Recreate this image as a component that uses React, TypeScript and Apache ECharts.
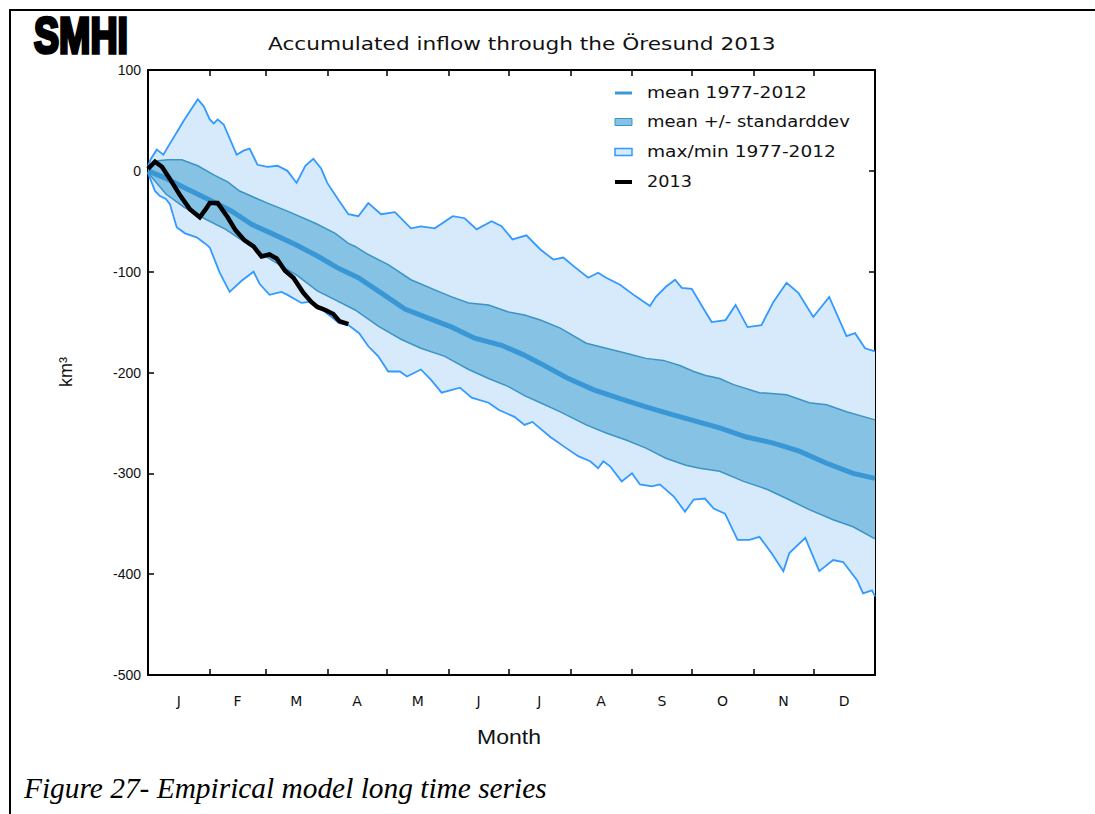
import React, { useEffect, useRef } from "react";
import * as echarts from "echarts";

// Day-of-year positions (0 = 1 Jan, 365 = 31 Dec end)
const monthStarts = [0, 31, 59, 90, 120, 151, 181, 212, 243, 273, 304, 334, 365];
const monthMids = [15.5, 45, 74.5, 105, 135.5, 166, 196.5, 227.5, 258, 288.5, 319, 349.5];
const monthLetters = ["J", "F", "M", "A", "M", "J", "J", "A", "S", "O", "N", "D"];

// Accumulated inflow, km³, as [day, value]
const maxCurve: [number, number][] = [
  [0, 5], [1.5, 12], [4.4, 21], [7.7, 16], [11, 27], [15, 40], [18, 50], [25, 71], [28, 64],
  [31, 51], [33, 47], [35, 51], [38, 46], [44.5, 16], [48, 20], [51, 22], [55, 6], [60, 4],
  [65, 5], [70, 0], [74.6, -12], [79, 5], [83, 12], [87, 2], [90, -12], [96, -30],
  [100.6, -43], [105.6, -45], [110.6, -32], [117, -43], [124, -41], [132, -57], [137, -55],
  [144, -57], [153, -45], [159, -47], [165, -58], [172.5, -50], [177.5, -55], [183, -68],
  [190, -64], [197, -78], [203.5, -88], [208.5, -86], [214, -95], [221, -106], [226, -101],
  [230, -106], [237, -113], [244.5, -124], [252, -134], [255, -125], [260, -115],
  [264.6, -108], [268, -116], [273, -117], [279, -137], [283, -150], [290, -148],
  [295, -133], [301, -155], [308, -153], [314, -130], [320.6, -111], [326.5, -121],
  [334, -145], [342, -125], [350.7, -164], [355, -161], [360, -176], [365, -179],
];

const minCurve: [number, number][] = [
  [0, -2], [3.5, -20], [6, -25], [9, -28], [11, -33], [14.4, -56], [18.6, -62], [24.4, -66],
  [28.6, -72], [31, -76], [36, -101], [41, -120], [47, -109], [53, -100], [56, -112],
  [61, -123], [67, -120], [70, -123], [77, -131], [81, -130], [89, -140], [96, -151],
  [100.6, -153], [106, -161], [110.6, -174], [115.6, -184], [120.6, -199], [126.5, -199],
  [130, -204], [137, -197], [142, -207], [147.4, -220], [156.6, -215], [162.5, -225],
  [171, -230], [176, -237], [184, -244], [189, -252], [193, -249], [202, -264], [210, -275],
  [216, -283], [222, -288], [226, -295], [228.6, -288], [232, -293], [237.8, -308],
  [243, -300], [247, -311], [253, -313], [257, -311], [264, -323], [269.6, -338],
  [274, -326], [279.6, -325], [284, -335], [289.7, -340], [296, -366], [302, -366],
  [307, -363], [313, -379], [319, -397], [322, -379], [330, -364], [337, -397], [344, -386],
  [349, -388], [356, -406], [359, -419], [363.5, -416], [365, -422],
];

const stdUpper: [number, number][] = [
  [0, 3], [5, 10], [10, 11], [17, 11], [25, 5], [33, -4], [40, -11], [46, -20], [54, -27],
  [60, -32], [70, -40], [84, -52], [94, -62], [100.6, -72], [104, -75], [110.6, -83],
  [120.6, -93], [132, -108], [144, -118], [152.5, -125], [161, -131], [171, -133],
  [181, -140], [189, -143], [197, -148], [207, -156], [220, -171], [230, -176], [240, -181],
  [250, -186], [258.7, -188], [267, -193], [274, -199], [280, -203], [287, -206],
  [294, -212], [307, -220], [320.6, -222], [332, -230], [340.7, -232], [350.7, -239],
  [365, -247],
];

const stdLower: [number, number][] = [
  [0, -2], [9, -23], [18, -36], [29, -48], [39, -58], [48, -70], [57, -82], [65, -92],
  [75, -104], [85, -119], [94, -128], [104, -138], [115.6, -154], [127, -167], [137, -176],
  [149, -184], [161, -197], [171, -206], [181, -214], [189, -223], [197, -230], [207, -239],
  [220, -252], [230, -260], [240, -267], [250, -275], [260, -285], [270, -292], [277, -295],
  [287, -298], [299, -308], [311, -316], [320.6, -325], [332, -336], [344, -346],
  [354, -353], [365, -365],
];

const meanCurve: [number, number][] = [
  [0, 0], [8.5, -7], [18.6, -17], [32, -30], [42, -40], [52, -53], [62, -62], [74, -73],
  [85.5, -85], [95, -96], [105.6, -106], [117, -121], [129, -137], [140.7, -146],
  [152.5, -155], [164, -166], [177.5, -173], [188, -182], [197, -191], [210, -205],
  [223.5, -217], [237, -226], [250, -234], [263.7, -242], [278, -250], [287, -255],
  [300.5, -264], [314, -270], [327, -278], [340.7, -290], [354, -300], [365, -305],
];

const year2013: [number, number][] = [
  [0, 2], [3.5, 9], [7, 4], [11, -8], [16, -24], [21, -38], [26, -46], [29, -38], [31, -32],
  [35, -32], [40, -46], [44, -59], [48.5, -69], [53, -75], [57, -85], [61, -83], [64.6, -87],
  [68.8, -99], [73, -106], [78, -121], [82, -130], [85, -135], [89, -138], [93, -142],
  [96, -149], [100.6, -152],
];

const legendNames = ["mean 1977-2012", "mean +/- standarddev", "max/min 1977-2012", "2013"];

const SANS = "DejaVu Sans";
const LIB = "Liberation Sans";
const SERIF = "Liberation Serif";

function textWidth(text: string, font: string): number {
  const ctx = document.createElement("canvas").getContext("2d");
  if (!ctx) return text.length * 8;
  ctx.font = font;
  return ctx.measureText(text).width;
}

function bandItem(upper: [number, number][], lower: [number, number][], fill: string) {
  return (_params: any, api: any) => {
    const pts = upper
      .map((p) => api.coord(p))
      .concat(lower.slice().reverse().map((p) => api.coord(p)));
    return { type: "polygon", shape: { points: pts }, style: { fill } };
  };
}

function lineSeries(name: string, data: [number, number][], color: string, width: number, z: number) {
  return {
    name,
    type: "line",
    data,
    showSymbol: false,
    symbol: "none",
    silent: true,
    z,
    lineStyle: { color, width, join: "miter" },
  };
}

export default function App() {
  const ref = useRef<HTMLDivElement>(null);

  useEffect(() => {
    if (!ref.current) return;
    const chart = echarts.init(ref.current, undefined, { renderer: "svg" });

    const title = "Accumulated inflow through the Öresund 2013";
    const titleSize = 17;
    const titleScale = 508 / textWidth(title, `${titleSize}px ${SANS}`);

    const legSize = 15;
    const legWidths = [160, 203, 189, 45];
    const legRows = [93, 122, 152, 182];

    const monthSize = 20;
    const monthScale = 64 / textWidth("Month", `${monthSize}px ${LIB}`);

    const caption = "Figure 27- Empirical model long time series";
    const capBase = 26;
    const capSize = (capBase * 523) / textWidth(caption, `italic ${capBase}px ${SERIF}`);

    const logoSize = 50;
    const logoScale = 94 / textWidth("SMHI", `bold ${logoSize}px ${LIB}`);

    const legendGraphics: any[] = [];
    legendNames.forEach((name, i) => {
      const cy = legRows[i];
      if (i === 0) {
        legendGraphics.push({ type: "rect", shape: { x: 615, y: cy - 1.5, width: 17, height: 3 }, style: { fill: "#3a97d6" } });
      } else if (i === 1) {
        legendGraphics.push({ type: "rect", shape: { x: 615, y: cy - 3.5, width: 17, height: 7 }, style: { fill: "#86c2e4", stroke: "#3a94c8", lineWidth: 1 } });
      } else if (i === 2) {
        legendGraphics.push({ type: "rect", shape: { x: 615, y: cy - 3.5, width: 17, height: 7 }, style: { fill: "#d6eafc", stroke: "#3399ff", lineWidth: 1.5 } });
      } else {
        legendGraphics.push({ type: "rect", shape: { x: 615, y: cy - 2, width: 17, height: 4 }, style: { fill: "#000" } });
      }
      const w = textWidth(name, `${legSize}px ${SANS}`);
      legendGraphics.push({
        type: "text",
        x: 647,
        y: cy,
        scaleX: legWidths[i] / w,
        style: { text: name, fontSize: legSize, fontFamily: SANS, fill: "#111", textAlign: "left", textVerticalAlign: "middle" },
      });
    });

    const xLabel = (v: number) => {
      for (let i = 0; i < monthMids.length; i++) {
        if (Math.abs(monthMids[i] - v) < 0.01) return monthLetters[i];
      }
      return "";
    };

    const axisLineStyle = { color: "#000", width: 2 };
    const tickStyle = { color: "#000", width: 1.5 };

    chart.setOption({
      animation: false,
      backgroundColor: "#fff",
      grid: { left: 148, top: 70, width: 727, height: 605, containLabel: false },
      xAxis: [
        {
          type: "value",
          min: 0,
          max: 365,
          position: "bottom",
          axisLine: { show: true, onZero: false, lineStyle: axisLineStyle },
          axisTick: { show: true, inside: true, length: 6, customValues: monthStarts, lineStyle: tickStyle },
          axisLabel: { show: true, customValues: monthMids, formatter: xLabel, margin: 19, fontSize: 14, fontFamily: SANS, color: "#111" },
          splitLine: { show: false },
        },
        {
          type: "value",
          min: 0,
          max: 365,
          position: "top",
          axisLine: { show: true, onZero: false, lineStyle: axisLineStyle },
          axisTick: { show: true, inside: true, length: 6, customValues: monthStarts, lineStyle: tickStyle },
          axisLabel: { show: false },
          splitLine: { show: false },
        },
      ],
      yAxis: [
        {
          type: "value",
          min: -500,
          max: 100,
          interval: 100,
          position: "left",
          axisLine: { show: true, onZero: false, lineStyle: axisLineStyle },
          axisTick: { show: true, inside: true, length: 6, lineStyle: tickStyle },
          axisLabel: { margin: 7, fontSize: 14, fontFamily: LIB, color: "#111" },
          splitLine: { show: false },
        },
        {
          type: "value",
          min: -500,
          max: 100,
          interval: 100,
          position: "right",
          axisLine: { show: true, onZero: false, lineStyle: axisLineStyle },
          axisTick: { show: true, inside: true, length: 6, lineStyle: tickStyle },
          axisLabel: { show: false },
          splitLine: { show: false },
        },
      ],
      series: [
        { type: "custom", name: "max/min band", data: [[0, 0]], silent: true, z: 1, clip: true, renderItem: bandItem(maxCurve, minCurve, "#d6eafc") },
        { type: "custom", name: "std band", data: [[0, 0]], silent: true, z: 2, clip: true, renderItem: bandItem(stdUpper, stdLower, "#86c2e4") },
        lineSeries("max 1977-2012", maxCurve, "#3399ff", 1.8, 3),
        lineSeries("min 1977-2012", minCurve, "#3399ff", 1.8, 3),
        lineSeries("mean + standarddev", stdUpper, "#3a94c8", 1.5, 4),
        lineSeries("mean - standarddev", stdLower, "#3a94c8", 1.5, 4),
        lineSeries("mean 1977-2012", meanCurve, "#3a97d6", 5, 5),
        lineSeries("2013", year2013, "#000", 4.5, 6),
      ],
      graphic: [
        // page frame
        { type: "line", shape: { x1: 9, y1: 10, x2: 1095, y2: 10 }, style: { stroke: "#000", lineWidth: 2 } },
        { type: "line", shape: { x1: 10, y1: 9, x2: 10, y2: 814 }, style: { stroke: "#000", lineWidth: 2 } },
        // logo
        {
          type: "text",
          x: 34,
          y: 35,
          scaleX: logoScale,
          style: { text: "SMHI", fontSize: logoSize, fontWeight: "bold", fontFamily: LIB, fill: "#000", stroke: "#000", lineWidth: 3.5, textAlign: "left", textVerticalAlign: "middle" },
        },
        // title
        {
          type: "text",
          x: 268,
          y: 44,
          scaleX: titleScale,
          style: { text: title, fontSize: titleSize, fontFamily: SANS, fill: "#111", textAlign: "left", textVerticalAlign: "middle" },
        },
        // y-axis name
        {
          type: "text",
          x: 66,
          y: 372,
          rotation: Math.PI / 2,
          style: { text: "km³", fontSize: 18, fontFamily: LIB, fill: "#111", textAlign: "center", textVerticalAlign: "middle" },
        },
        // x-axis name
        {
          type: "text",
          x: 477,
          y: 737,
          scaleX: monthScale,
          style: { text: "Month", fontSize: monthSize, fontFamily: LIB, fill: "#111", textAlign: "left", textVerticalAlign: "middle" },
        },
        // caption
        {
          type: "text",
          x: 24,
          y: 788,
          style: { text: caption, fontSize: capSize, fontStyle: "italic", fontFamily: SERIF, fill: "#000", textAlign: "left", textVerticalAlign: "middle" },
        },
        ...legendGraphics,
      ],
    });

    return () => chart.dispose();
  }, []);

  return (
    <div
      ref={ref}
      style={{ position: "absolute", left: 0, top: 0, width: 1095, height: 814, background: "#fff" }}
    />
  );
}
